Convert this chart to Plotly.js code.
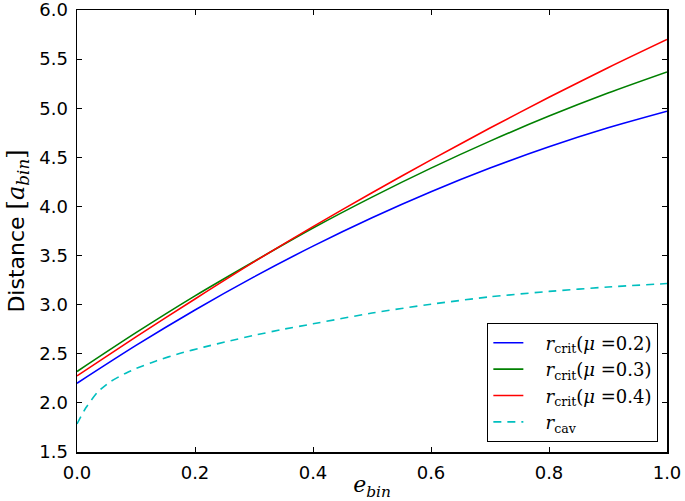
<!DOCTYPE html>
<html>
<head>
<meta charset="utf-8">
<script src="https://cdn.plot.ly/plotly-3.0.1.min.js"></script>
<style>html,body{margin:0;padding:0;background:#fff;}#chart{width:685px;height:501px;}</style>
</head>
<body>
<div id="chart"></div>
<script>
// e_bin sample points and curve values
const eCrit = [0, 0.1, 0.2, 0.3, 0.4, 0.5, 0.6, 0.7, 0.8, 0.9, 1.0];
const rCrit02 = [2.20, 2.585, 2.946, 3.283, 3.596, 3.885, 4.150, 4.391, 4.608, 4.801, 4.970];
const rCrit03 = [2.32, 2.715, 3.09, 3.44, 3.78, 4.095, 4.39, 4.665, 4.92, 5.155, 5.37];
const rCrit04 = [2.275, 2.672, 3.058, 3.435, 3.795, 4.14, 4.474, 4.798, 5.111, 5.412, 5.70];
const eCav = [0, 0.015, 0.035, 0.055, 0.08, 0.1, 0.135, 0.175, 0.215, 0.26, 0.305, 0.35, 0.4, 0.5, 0.6, 0.7, 0.8, 0.9, 1.0];
const rCav = [1.786, 1.95, 2.11, 2.21, 2.295, 2.35, 2.43, 2.505, 2.568, 2.633, 2.694, 2.75, 2.805, 2.915, 3.005, 3.08, 3.135, 3.18, 3.215];
const legendNames = [
  '<i>r</i><sub>crit</sub>(<i>μ</i> =0.2)',
  '<i>r</i><sub>crit</sub>(<i>μ</i> =0.3)',
  '<i>r</i><sub>crit</sub>(<i>μ</i> =0.4)',
  '<i>r</i><sub>cav</sub>'
];
const xTicks = [0, 0.2, 0.4, 0.6, 0.8, 1.0];
const xTickText = ['0.0', '0.2', '0.4', '0.6', '0.8', '1.0'];
const yTicks = [1.5, 2.0, 2.5, 3.0, 3.5, 4.0, 4.5, 5.0, 5.5, 6.0];
const yTickText = ['1.5', '2.0', '2.5', '3.0', '3.5', '4.0', '4.5', '5.0', '5.5', '6.0'];

const pad = '&nbsp;&nbsp;&nbsp;';
const traces = [
  {x: eCrit, y: rCrit02, name: pad + legendNames[0], mode: 'lines', line: {color: '#0000ff', width: 1.6, shape: 'spline', smoothing: 0.8}},
  {x: eCrit, y: rCrit03, name: pad + legendNames[1], mode: 'lines', line: {color: '#008000', width: 1.6, shape: 'spline', smoothing: 0.8}},
  {x: eCrit, y: rCrit04, name: pad + legendNames[2], mode: 'lines', line: {color: '#ff0000', width: 1.6, shape: 'spline', smoothing: 0.8}},
  {x: eCav, y: rCav, name: pad + legendNames[3], mode: 'lines', line: {color: '#00bfbf', width: 1.6, dash: '8px,6px', shape: 'spline', smoothing: 0.5}}
];

const axisCommon = {
  showgrid: false, zeroline: false, showline: true, linecolor: '#000', linewidth: 1.5,
  mirror: 'ticks', ticks: 'inside', ticklen: 5, tickwidth: 1, tickcolor: '#000',
  ticklabeloverflow: 'allow',
  tickfont: {family: 'DejaVu Sans', size: 18, color: '#000'}
};

const layout = {
  width: 685, height: 501,
  margin: {l: 77, r: 18, t: 10, b: 49},
  paper_bgcolor: '#fff', plot_bgcolor: '#fff',
  showlegend: true,
  xaxis: Object.assign({}, axisCommon, {
    range: [0, 1], tickvals: xTicks, ticktext: xTickText, ticklabelstandoff: 4,
    title: {text: '<i>e</i><sub><i>bin</i></sub>', font: {family: 'DejaVu Serif', size: 22, color: '#000'}, standoff: 6}
  }),
  yaxis: Object.assign({}, axisCommon, {
    range: [1.5, 6.0], tickvals: yTicks, ticktext: yTickText, ticklabelstandoff: 4,
    title: {text: 'Distance <span style="font-family:DejaVu Serif;font-size:24px">[<i>a</i><sub><i>bin</i></sub>]</span>', font: {family: 'DejaVu Sans', size: 22, color: '#000'}, standoff: 8}
  }),
  legend: {
    x: 0.985, y: 0.022, xanchor: 'right', yanchor: 'bottom',
    bordercolor: '#000', borderwidth: 1.2, bgcolor: '#fff',
    font: {family: 'DejaVu Serif', size: 18, color: '#000'},
    tracegroupgap: 0, itemwidth: 30
  }
};

Plotly.newPlot('chart', traces, layout, {staticPlot: true, displayModeBar: false});
</script>
</body>
</html>
